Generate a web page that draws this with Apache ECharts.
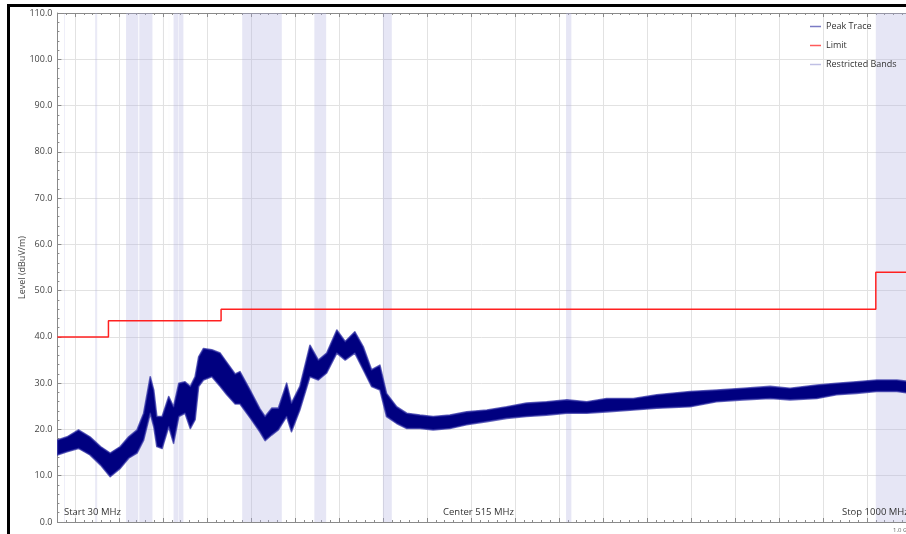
<!DOCTYPE html>
<html>
<head>
<meta charset="utf-8">
<script src="https://cdn.jsdelivr.net/npm/echarts@6/dist/echarts.min.js"></script>
<style>
html,body{margin:0;padding:0;background:#fff;}
#chart{width:906px;height:534px;}
</style>
</head>
<body>
<div id="chart"></div>
<script>
// ---- data ----
const freqMHz = [30, 41, 54, 67, 79, 90, 101.5, 111, 120.5, 128, 135.5, 139.5, 143, 149, 156.5, 162, 168, 175, 181, 186.5,
  190.5, 196, 205.5, 215, 222.5, 232, 237.5, 249, 260, 266, 273.5, 281, 290.5, 296, 305.5, 317, 326.5, 336, 347.5, 357,
  368, 377.5, 387, 396.5, 404, 415.5, 427, 442, 457, 476, 495, 518, 540.5, 563, 586, 609, 631.5, 654, 684.5, 711,
  749, 779, 809.5, 840, 862.5, 893, 915.5, 938, 961, 984, 1000];
const traceUpper = [17.7, 18.4, 19.9, 18.4, 16.3, 14.9, 16.3, 18.4, 19.9, 23.5, 31.4, 28.5, 22.8, 22.8, 27.1, 24.9, 30.0, 30.3, 29.3, 31.4,
  35.7, 37.5, 37.2, 36.5, 34.5, 32.0, 32.5, 28.5, 24.5, 22.8, 24.6, 24.6, 30.0, 25.7, 29.3, 38.2, 35.0, 36.5, 41.5, 39.0,
  41.1, 37.9, 32.9, 33.9, 27.8, 24.9, 23.5, 23.1, 22.8, 23.1, 23.8, 24.2, 24.9, 25.7, 26.0, 26.4, 26.0, 26.7, 26.7, 27.5,
  28.2, 28.5, 28.9, 29.3, 28.9, 29.6, 30.0, 30.3, 30.7, 30.7, 30.3];
const traceLower = [14.5, 15.2, 15.9, 14.5, 12.3, 9.8, 11.6, 13.8, 14.9, 17.7, 23.5, 20.6, 16.3, 15.9, 20.6, 17.0, 22.8, 23.5, 20.2, 22.1,
  29.3, 30.7, 31.4, 29.3, 27.5, 25.5, 25.5, 22.5, 19.5, 17.6, 18.8, 19.9, 22.8, 19.5, 24.2, 31.4, 30.7, 32.2, 36.5, 35.0,
  36.5, 32.9, 29.3, 28.5, 22.8, 21.3, 20.2, 20.2, 19.9, 20.2, 21.0, 21.7, 22.4, 22.8, 23.1, 23.5, 23.5, 23.8, 24.2, 24.6,
  24.9, 26.0, 26.4, 26.7, 26.4, 26.7, 27.5, 27.8, 28.2, 28.2, 27.8];
const limitFreqMHz = [30, 88, 216, 960, 1000];
const limitLevel = [40, 43.5, 46, 54, 54];
const restrictedStart = [37.5, 73, 74.8, 108, 123, 149.9, 156.52475, 156.7, 162.0125, 167.72, 240, 322, 399.9, 608, 960];
const restrictedEnd = [38.25, 74.6, 75.2, 121.94, 138, 150.05, 156.52525, 156.9, 167.17, 173.2, 285, 335.4, 410, 614, 1000];
const majorFreqTicks = [50, 100, 150, 200, 250, 300, 350, 400, 450, 500, 550, 600, 650, 700, 750, 800, 850, 900, 950, 1000];
const freqNotes = ['Start 30 MHz', 'Center 515 MHz', 'Stop 1000 MHz'];
const legendNames = ['Peak Trace', 'Limit', 'Restricted Bands'];
const yTitle = 'Level (dBuV/m)';
// the plot runs slightly past the right edge of the picture; this is the frequency at the visible edge
const visibleMaxMHz = 994.3;

// ---- build ----
const FONT = 'Open Sans';
const limitData = limitFreqMHz.map((f, i) => [f, limitLevel[i]]);
const bandAreas = restrictedStart.map((s, i) => [{xAxis: s}, {xAxis: Math.min(restrictedEnd[i], visibleMaxMHz)}]);

function minorAxis(pos) {
  return {
    type: 'value', position: pos, min: 30, max: visibleMaxMHz, interval: 10,
    axisLine: {show: true, onZero: false, lineStyle: {color: '#8a8a8a', width: 1}},
    axisTick: {show: true, inside: true, length: 2, lineStyle: {color: '#8a8a8a'}},
    axisLabel: {show: false}, splitLine: {show: false}
  };
}
function majorAxis(pos, grid) {
  return {
    type: 'value', position: pos, min: 30, max: visibleMaxMHz,
    axisLine: {show: false, onZero: false},
    axisTick: {show: true, inside: true, length: 4, customValues: majorFreqTicks, lineStyle: {color: '#8a8a8a'}},
    axisLabel: {show: false, customValues: majorFreqTicks},
    splitLine: {show: grid, lineStyle: {color: '#e2e2e2', width: 1}}
  };
}

function renderTrace(params, api) {
  const pts = [];
  for (let i = 0; i < freqMHz.length; i++) pts.push(api.coord([freqMHz[i], traceUpper[i]]));
  for (let i = freqMHz.length - 1; i >= 0; i--) pts.push(api.coord([freqMHz[i], traceLower[i]]));
  return {
    type: 'polygon',
    shape: {points: pts},
    style: {fill: '#000080', stroke: 'rgba(50,50,165,0.75)', lineWidth: 1.6, lineJoin: 'round'}
  };
}

const option = {
  animation: false,
  backgroundColor: '#ffffff',
  textStyle: {fontFamily: FONT},
  grid: {left: 57.4, right: 0, top: 13, bottom: 12},
  legend: {
    orient: 'vertical', left: 805, top: 17, itemGap: 10,
    icon: 'rect', itemWidth: 11, itemHeight: 1.5,
    textStyle: {fontFamily: FONT, fontSize: 9, color: '#333'},
    data: [
      {name: legendNames[0], itemStyle: {color: '#7b7bc4'}},
      {name: legendNames[1], itemStyle: {color: '#ff5a5a'}},
      {name: legendNames[2], itemStyle: {color: '#c0c0e4'}}
    ]
  },
  xAxis: [minorAxis('bottom'), minorAxis('top'), majorAxis('bottom', true), majorAxis('top', false)],
  yAxis: {
    type: 'value', min: 0, max: 110, interval: 10,
    name: yTitle, nameLocation: 'middle', nameGap: 30, nameMoveOverlap: false,
    nameTextStyle: {fontFamily: FONT, fontSize: 9, color: '#444'},
    axisLine: {show: true, lineStyle: {color: '#8a8a8a'}},
    axisTick: {show: true, inside: true, length: 4, lineStyle: {color: '#8a8a8a'}},
    minorTick: {show: true, splitNumber: 5, length: 2, lineStyle: {color: '#8a8a8a'}},
    axisLabel: {fontFamily: FONT, fontSize: 9, color: '#444', margin: 5, formatter: v => v.toFixed(1)},
    splitLine: {show: true, lineStyle: {color: '#e2e2e2', width: 1}}
  },
  series: [
    {
      name: legendNames[2], type: 'line', data: [], xAxisIndex: 0, z: 1, silent: true,
      itemStyle: {color: '#c0c0e4'},
      markArea: {silent: true, itemStyle: {color: 'rgba(176,176,224,0.32)'}, data: bandAreas}
    },
    {
      name: legendNames[0], type: 'custom', xAxisIndex: 0, z: 3, silent: true,
      itemStyle: {color: '#000080'},
      renderItem: renderTrace,
      data: [[freqMHz[0], traceUpper[0]]],
      clip: true
    },
    {
      name: legendNames[1], type: 'line', data: limitData, xAxisIndex: 0, step: 'end', z: 4,
      showSymbol: false, symbol: 'none', silent: true,
      itemStyle: {color: '#ff2020'},
      lineStyle: {color: '#ff2020', width: 1.5}
    }
  ],
  graphic: [
    {type: 'rect', left: 7, top: 4, shape: {width: 899, height: 3}, style: {fill: '#000'}, z: 100},
    {type: 'rect', left: 7, top: 4, shape: {width: 3, height: 530}, style: {fill: '#000'}, z: 100},
    {type: 'text', left: 64, top: 507, style: {text: freqNotes[0], font: '9.5px "Open Sans"', fill: '#333'}, z: 100},
    {type: 'text', left: 443, top: 507, style: {text: freqNotes[1], font: '9.5px "Open Sans"', fill: '#333'}, z: 100},
    {type: 'text', left: 842, top: 507, style: {text: freqNotes[2], font: '9.5px "Open Sans"', fill: '#333'}, z: 100},
    {type: 'text', left: 893, top: 527, style: {text: '1.0 GHz', font: '6px "Open Sans"', fill: '#666'}, z: 100}
  ]
};

const chart = echarts.init(document.getElementById('chart'), null, {renderer: 'canvas'});
chart.setOption(option);
</script>
</body>
</html>
